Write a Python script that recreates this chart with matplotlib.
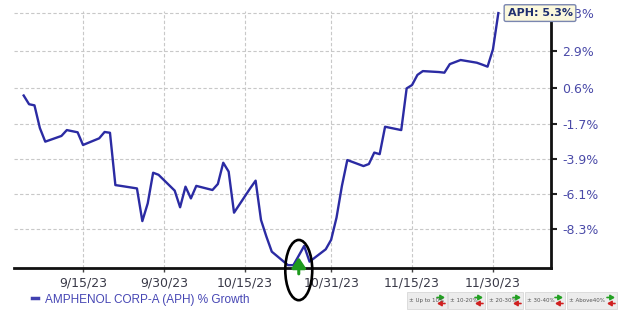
import matplotlib
matplotlib.use("Agg")
import matplotlib.pyplot as plt
import matplotlib.dates as mdates
from matplotlib.patches import Ellipse, FancyArrowPatch
from matplotlib.lines import Line2D
import pandas as pd

# APH % growth (trading days)
dates = ["2023-09-04", "2023-09-05", "2023-09-06", "2023-09-07", "2023-09-08",
         "2023-09-11", "2023-09-12", "2023-09-13", "2023-09-14", "2023-09-15",
         "2023-09-18", "2023-09-19", "2023-09-20", "2023-09-21", "2023-09-22",
         "2023-09-25", "2023-09-26", "2023-09-27", "2023-09-28", "2023-09-29",
         "2023-10-02", "2023-10-03", "2023-10-04", "2023-10-05", "2023-10-06",
         "2023-10-09", "2023-10-10", "2023-10-11", "2023-10-12", "2023-10-13",
         "2023-10-16", "2023-10-17", "2023-10-18", "2023-10-19", "2023-10-20",
         "2023-10-23", "2023-10-24", "2023-10-25", "2023-10-26", "2023-10-27",
         "2023-10-30", "2023-10-31", "2023-11-01", "2023-11-02", "2023-11-03",
         "2023-11-06", "2023-11-07", "2023-11-08", "2023-11-09", "2023-11-10",
         "2023-11-13", "2023-11-14", "2023-11-15", "2023-11-16", "2023-11-17",
         "2023-11-20", "2023-11-21", "2023-11-22", "2023-11-24", "2023-11-27",
         "2023-11-28", "2023-11-29", "2023-11-30", "2023-12-01"]
growth = [0.1, -0.45, -0.52, -1.95, -2.81,
          -2.45, -2.08, -2.15, -2.22, -3.02,
          -2.6, -2.2, -2.25, -5.55, -5.6,
          -5.76, -7.82, -6.7, -4.77, -4.9,
          -5.9, -6.95, -5.65, -6.39, -5.6,
          -5.86, -5.48, -4.14, -4.7, -7.29,
          -5.75, -5.27, -7.75, -8.8, -9.75,
          -10.6, -10.6, -10.0, -9.39, -10.38,
          -9.6, -9.0, -7.6, -5.6, -3.97,
          -4.35, -4.22, -3.5, -3.6, -1.87,
          -2.08, 0.55, 0.76, 1.4, 1.64,
          1.58, 1.54, 2.08, 2.34, 2.17,
          2.05, 1.92, 3.01, 5.3]

ytick_vals = [5.3, 2.9, 0.6, -1.7, -3.9, -6.1, -8.3]
xtick_dates = ["2023-09-15", "2023-09-30", "2023-10-15", "2023-10-31", "2023-11-15", "2023-11-30"]
signal_date = "2023-10-25"
legend_label = "AMPHENOL CORP-A (APH) % Growth"
range_labels = ["\u00b1 Up to 10%", "\u00b1 10-20%", "\u00b1 20-30%", "\u00b1 30-40%", "\u00b1 Above40%"]

x = pd.to_datetime(dates)
line_col = "#2b2ba3"

fig = plt.figure(figsize=(6.2, 3.12), dpi=100)
ax = fig.add_axes([0.0226, 0.141, 0.866, 0.8237])

ax.plot(x, growth, color=line_col, lw=1.7, zorder=3)

ax.set_xlim(pd.Timestamp("2023-09-02 05:00"), pd.Timestamp("2023-12-10 18:00"))
ax.set_ylim(-10.78, 5.43)

ax.set_xticks(pd.to_datetime(xtick_dates))
ax.xaxis.set_major_formatter(mdates.DateFormatter("%-m/%d/%y"))
ax.set_yticks(ytick_vals)
ax.set_yticklabels([f"{v:.1f}%" for v in ytick_vals])
ax.yaxis.tick_right()
ax.tick_params(axis="y", length=4, width=1.5, color="#222222", labelcolor="#4a4aa8",
               labelsize=9, pad=4)
ax.tick_params(axis="x", length=3, width=1, color="#444444", labelcolor="#3a3a48",
               labelsize=9, pad=3)

ax.grid(True, color="#c8c8c8", lw=0.8, ls=(0, (3, 2)))
for s in ["top", "left"]:
    ax.spines[s].set_visible(False)
for s in ["bottom", "right"]:
    ax.spines[s].set_color("#111111")
    ax.spines[s].set_linewidth(2)

# callout with last value (covers the top tick label, as in the original)
ax.annotate(f"APH: {growth[-1]:.1f}%", xy=(x[-1], growth[-1]), xytext=(30, 0),
            textcoords="offset points", ha="center", va="center",
            fontsize=8, fontweight="bold", color="#1f2f70",
            bbox=dict(boxstyle="round,pad=0.3,rounding_size=0.15", fc="#fbf8dc", ec="#7a86b0", lw=1),
            annotation_clip=False, zorder=10)

# green signal arrow and hand-drawn ellipse
sd = mdates.date2num(pd.Timestamp(signal_date))
arr = FancyArrowPatch((sd, -11.15), (sd, -10.1), arrowstyle="-|>,head_width=0.3,head_length=0.45",
                      mutation_scale=14, color="#1e9a1e", lw=2.2, shrinkA=0, shrinkB=0,
                      clip_on=False, zorder=6)
ax.add_patch(arr)
ell = Ellipse((sd, -10.91), width=5.0, height=3.8, fill=False,
              ec="black", lw=1.9, clip_on=False, zorder=7)
ax.add_patch(ell)

# legend
h = Line2D([], [], color="#4040b0", lw=2.5)
fig.legend([h], [legend_label], loc="center left", bbox_to_anchor=(0.035, 0.04),
           frameon=False, handlelength=0.5, handletextpad=0.6, labelcolor="#4646b4",
           prop={"family": "Liberation Sans", "size": 8.5})

# range legend boxes
box_x = [407, 448, 487, 525, 567]
box_w = [40, 37, 36, 40, 50]
for bx, bw, lab in zip(box_x, box_w, range_labels):
    fig.patches.append(plt.Rectangle((bx / 620, 3 / 312), bw / 620, 17 / 312,
                                     transform=fig.transFigure, fc="#ececec",
                                     ec="#d8d8d8", lw=0.6))
    fig.text((bx + 2) / 620, 11.5 / 312, lab, fontsize=4, color="#555555",
             va="center", ha="left", family="Liberation Sans Narrow")
    ax_r = (bx + bw - 2) / 620
    ax_l = (bx + bw - 10) / 620
    fig.patches.append(FancyArrowPatch((ax_l, 14.5 / 312), (ax_r, 14.5 / 312),
                                       transform=fig.transFigure, arrowstyle="-|>,head_width=0.3,head_length=0.5",
                                       mutation_scale=5, color="#22a022", lw=1.2,
                                       shrinkA=0, shrinkB=0))
    fig.patches.append(FancyArrowPatch((ax_r, 8.5 / 312), (ax_l, 8.5 / 312),
                                       transform=fig.transFigure, arrowstyle="-|>,head_width=0.3,head_length=0.5",
                                       mutation_scale=5, color="#d02020", lw=1.2,
                                       shrinkA=0, shrinkB=0))

fig.savefig("out.png", dpi=100)
